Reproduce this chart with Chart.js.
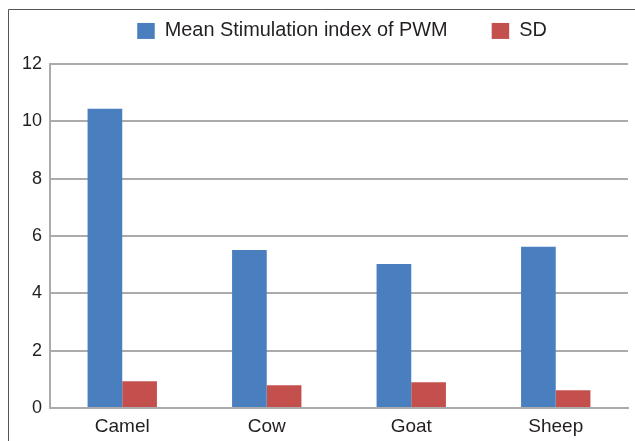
<!DOCTYPE html>
<html lang="en">

<head>
  <meta charset="UTF-8">
  <title>Stimulation index</title>
  <script src="https://cdn.jsdelivr.net/npm/chart.js"></script>
  <style>
    body { margin: 0; background: #fff; }
    #wrap { width: 635px; height: 441px; }
  </style>
</head>

<body>
  <div id="wrap"><canvas id="siChart"></canvas></div>
  <script>

    var animals = ['Camel', 'Cow', 'Goat', 'Sheep'];
    var meanIndex = [10.44, 5.51, 5.02, 5.62];
    var sdIndex = [0.93, 0.79, 0.90, 0.62];
    var yTicks = [0, 2, 4, 6, 8, 10, 12];

    var gridGrey = '#ababab';
    var textColor = '#231f20';

    // thin dark frame on the top and left edge, like the source figure
    var framePlugin = {
      id: 'frame',
      afterLayout: function (chart) {
        // legend in the source sits a little right of the plot centre
        chart.legend.left += 3;
        chart.legend.right += 3;
      },
      afterDraw: function (chart) {
        var ctx = chart.ctx;
        ctx.save();
        ctx.strokeStyle = '#555555';
        ctx.lineWidth = 1;
        ctx.beginPath();
        ctx.moveTo(8.5, 441);
        ctx.lineTo(8.5, 9.5);
        ctx.lineTo(635, 9.5);
        ctx.stroke();
        ctx.restore();
      }
    };

    new Chart(document.getElementById('siChart'), {
      type: 'bar',
      data: {
        labels: animals,
        datasets: [{
          label: 'Mean Stimulation index of PWM',
          data: meanIndex,
          backgroundColor: '#4a7fbf'
        }, {
          label: 'SD',
          data: sdIndex,
          backgroundColor: '#c4504e'
        }]
      },
      options: {
        responsive: true,
        maintainAspectRatio: false,
        animation: false,
        datasets: {
          bar: { categoryPercentage: 0.48, barPercentage: 1 }
        },
        layout: {
          padding: { left: 0, right: 0, top: -23, bottom: 0 }
        },
        plugins: {
          legend: {
            position: 'top',
            fullSize: false,
            labels: {
              boxWidth: 17.5,
              boxHeight: 16,
              padding: 44,
              color: textColor,
              font: { family: 'Liberation Sans', size: 19.9 }
            }
          },
          // empty spacer between legend and plot
          subtitle: {
            display: true,
            text: '',
            weight: 500,
            font: { size: 1, lineHeight: 1 },
            padding: { top: 0, bottom: 12 }
          },
          tooltip: { enabled: false }
        },
        scales: {
          x: {
            grid: { display: false, drawTicks: false },
            border: { display: true, color: gridGrey, width: 2 },
            ticks: {
              padding: 7,
              color: textColor,
              font: { family: 'Liberation Sans', size: 19 }
            },
            afterFit: function (scale) { scale.height = 33; }
          },
          y: {
            min: 0,
            max: 12,
            afterBuildTicks: function (scale) {
              scale.ticks = yTicks.map(function (v) { return { value: v }; });
            },
            grid: { color: gridGrey, lineWidth: 2, drawTicks: false },
            border: { display: true, color: gridGrey, width: 2 },
            ticks: {
              padding: 8,
              color: textColor,
              font: { family: 'Liberation Sans', size: 18 }
            },
            afterFit: function (scale) { scale.width = 50; }
          },
          yRight: {
            position: 'right',
            display: true,
            grid: { display: false, drawTicks: false },
            border: { display: false },
            ticks: { display: false },
            afterFit: function (scale) { scale.width = 7; }
          }
        }
      },
      plugins: [framePlugin]
    });
  </script>
</body>

</html>
